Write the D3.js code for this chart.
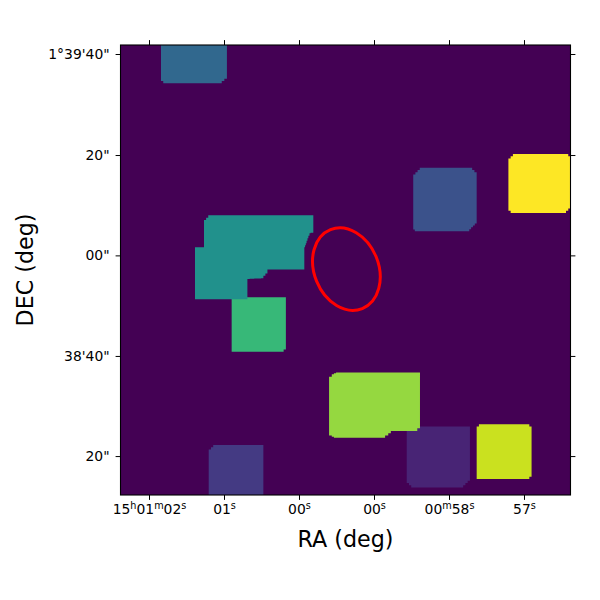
<!DOCTYPE html>
<html><head><meta charset="utf-8">
<script src="https://cdnjs.cloudflare.com/ajax/libs/d3/7.8.5/d3.min.js"></script>
<style>html,body{margin:0;padding:0;background:#fff}svg{display:block}text{font-family:"DejaVu Sans",sans-serif;fill:#000}</style>
</head><body><svg id="c" width="600" height="600"></svg>
<script>
// image is a 200 x 200 grid of cells; outlines are read in cell units
const imageCells = 200;
const raTicks = [12.67, 46, 79.33, 112.67, 146, 179.33];
const raLabels = ["15h01m02s", "01s", "00s", "00s", "00m58s", "57s"];
const decTicks = [4, 48.9, 93.5, 138.2, 182.7];
const decLabels = ["1°39'40\"", "20\"", "00\"", "38'40\"", "20\""];
const background = 0;
const regionValues = [0.335, 0.25, 1.0, 0.67, 0.5, 0.1, 0.84, 0.92, 0.17];
const regionTop = [[18,0],[47.3,0],[47.3,15],[45,17],[20,17],[18,15]];
const regionBlue = [[133,54.5],[155.3,54.5],[158.3,57.5],[158.3,79.3],[155,82.8],[131.5,82.8],[130.1,81.3],[130.1,57.5]];
const regionYellow = [[174.4,48.4],[198,48.4],[200,50.4],[200,72.7],[198,74.7],[174.4,74.7],[172.4,72.7],[172.4,50.4]];
const regionGreen = [[49.4,112.1],[72.5,112.1],[73.5,113.1],[73.5,135.3],[72.5,136.3],[50.4,136.3],[49.4,135.3]];
const regionTeal = [[39,75.7],[84.5,75.7],[85.7,76.9],[85.7,83.4],[84.5,83.7],[83.5,85.9],[82.7,88.1],[81.7,90.8],[81.7,99.8],[65.3,99.8],[65.3,101.5],[63.5,103.7],[56.4,104],[56.4,113],[33.1,113],[33.1,89.9],[37.1,89.9],[37.1,77.8]];
const regionPurple = [[127.2,169.6],[155.3,169.6],[155.3,193.7],[152.3,196.7],[130.2,196.7],[127.2,193.7]];
const regionLime = [[95.8,145.5],[131.9,145.5],[133.1,146.6],[133.1,170.3],[131.9,171.5],[121.3,171.5],[119,173.6],[117.6,174.6],[95.8,174.6],[93.9,173.6],[92.7,172.6],[92.7,147.4],[93.9,146.3]];
const regionOlive = [[159.3,168.6],[180.7,168.6],[182.7,170.6],[182.7,191.9],[181.7,192.9],[158.3,192.9],[158.3,169.6]];
const regionIndigo = [[41.2,177.8],[62.5,177.8],[63.5,179],[63.5,200],[39.2,200],[39.2,179.8]];
const regionOutlines = [regionTop, regionBlue, regionYellow, regionGreen, regionTeal, regionPurple, regionLime, regionOlive, regionIndigo];
const ellipseCentre = [100.4, 99.6];
const ellipseRadii = [14.3, 18.9];
const ellipseAngle = -22;

const L = 120.5, R = 570.5, T = 45, B = 495;
const x = d3.scaleLinear().domain([0, imageCells]).range([L, R]);
const y = d3.scaleLinear().domain([0, imageCells]).range([T, B]);
const svg = d3.select("#c");
svg.append("defs").append("clipPath").attr("id", "clip").append("rect")
  .attr("x", L).attr("y", T).attr("width", R - L).attr("height", B - T);
const g = svg.append("g").attr("clip-path", "url(#clip)");
g.append("rect").attr("x", L).attr("y", T).attr("width", R - L).attr("height", B - T)
  .attr("fill", d3.interpolateViridis(background));

function stairs(poly) {
  const out = [];
  poly.forEach((p, i) => {
    const q = poly[(i + 1) % poly.length];
    const dx = q[0] - p[0], dy = q[1] - p[1];
    out.push(p);
    if (Math.abs(dx) > 0.01 && Math.abs(dy) > 0.01) {
      const n = Math.max(1, Math.round(Math.max(Math.abs(dx), Math.abs(dy))));
      for (let k = 0; k < n; k++) {
        const a = [p[0] + dx * k / n, p[1] + dy * k / n];
        out.push([a[0] + dx / n, a[1]]);
        out.push([a[0] + dx / n, a[1] + dy / n]);
      }
    }
  });
  return out;
}
const order = [0, 1, 2, 3, 4, 5, 6, 7, 8];
g.selectAll("path.region").data(order).join("path").attr("class", "region")
  .attr("d", i => d3.line().x(d => x(d[0])).y(d => y(d[1]))(stairs(regionOutlines[i])) + "Z")
  .attr("fill", i => d3.interpolateViridis(regionValues[i]));

const cx = x(ellipseCentre[0]), cy = y(ellipseCentre[1]);
g.append("ellipse").attr("cx", cx).attr("cy", cy)
  .attr("rx", x(ellipseRadii[0]) - x(0)).attr("ry", y(ellipseRadii[1]) - y(0))
  .attr("transform", `rotate(${ellipseAngle} ${cx} ${cy})`)
  .attr("fill", "none").attr("stroke", "#ff0000").attr("stroke-width", 3);

function styled(sel) {
  sel.selectAll(".domain").remove();
  sel.selectAll("line").attr("stroke", "#000").attr("stroke-width", 1);
  sel.selectAll("text").attr("font-size", 13.9).attr("fill", "#000");
}
const gb = svg.append("g").attr("transform", `translate(0,${B})`)
  .call(d3.axisBottom(x).tickValues(raTicks).tickSize(4.9).tickPadding(4).tickFormat((d, i) => raLabels[i])).call(styled);
svg.append("g").attr("transform", `translate(0,${T})`)
  .call(d3.axisTop(x).tickValues(raTicks).tickSize(4.9).tickFormat("")).call(styled);
svg.append("g").attr("transform", `translate(${L},0)`)
  .call(d3.axisLeft(y).tickValues(decTicks).tickSize(4.9).tickPadding(6).tickFormat((d, i) => decLabels[i])).call(styled);
svg.append("g").attr("transform", `translate(${R},0)`)
  .call(d3.axisRight(y).tickValues(decTicks).tickSize(4.9).tickFormat("")).call(styled);

gb.selectAll("text").each(function () {
  const t = d3.select(this), s = t.text();
  t.text(null);
  s.split(/([hms])/).filter(p => p).forEach(p => {
    const sup = /^[hms]$/.test(p);
    t.append("tspan").text(p).attr("font-size", sup ? 9.7 : 13.9)
      .attr("baseline-shift", sup ? "5.5px" : null);
  });
});

svg.append("rect").attr("x", L).attr("y", T).attr("width", R - L).attr("height", B - T)
  .attr("fill", "none").attr("stroke", "#000").attr("stroke-width", 1.1);

svg.append("text").attr("x", (L + R) / 2).attr("y", 547).attr("text-anchor", "middle")
  .attr("font-size", 22.2).text("RA (deg)");
svg.append("text").attr("transform", `translate(33,${(T + B) / 2}) rotate(-90)`).attr("text-anchor", "middle")
  .attr("font-size", 22.2).text("DEC (deg)");
</script></body></html>
